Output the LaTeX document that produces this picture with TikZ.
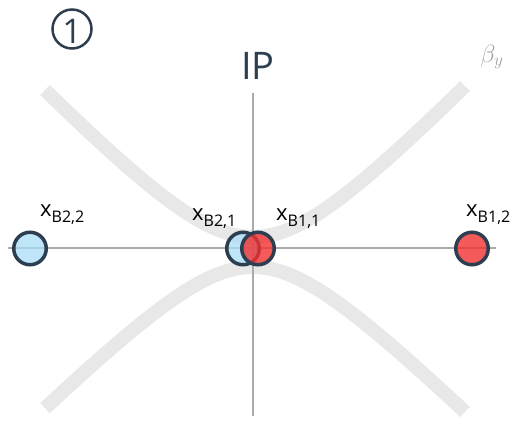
\documentclass[tikz,border=0pt]{standalone}
\usepackage{fontspec}
\setmainfont{Open Sans}
\definecolor{ink}{HTML}{2C3E50}
\definecolor{band}{HTML}{E8E8E8}
\definecolor{axisgray}{HTML}{AAAAAA}
\definecolor{bluefill}{HTML}{A8DDF5}
\definecolor{redfill}{HTML}{F23131}
\definecolor{betagray}{HTML}{A0A0A0}
\newcommand{\blab}[1]{{\fontsize{22}{22}\selectfont x}\raisebox{-6.5pt}{\fontsize{16}{16}\selectfont #1}}
\begin{document}
\begin{tikzpicture}[x=1pt,y=-1pt,
  curve/.style={draw=band,line width=14pt},
  axisline/.style={draw=axisgray,line width=2pt},
  dot/.style={circle,draw=ink,line width=3.5pt,minimum size=32.5pt,inner sep=0pt},
  bluedot/.style={dot,fill=bluefill,fill opacity=0.75},
  reddot/.style={dot,fill=redfill,fill opacity=0.8},
  lab/.style={anchor=base west,inner sep=0pt,text=black}]
\useasboundingbox (0,0) rectangle (513,423);
% hyperbolas
\draw[curve] plot[domain=-208:212,samples=120,variable=\t]
  ({253+\t},{237-(10*sqrt(8.87*8.87+(0.105*\t)*(0.105*\t))-88.7)});
\draw[curve] plot[domain=-208:212,samples=120,variable=\t]
  ({253+\t},{267+(10*sqrt(8.27*8.27+(0.1*\t)*(0.1*\t))-82.7)});
% axes
\coordinate (hl) at (8,248);
\coordinate (hr) at (496,248);
\coordinate (vt) at (253,93);
\coordinate (vb) at (253,416);
\draw[axisline] (hl) -- (hr);
\draw[axisline] (vt) -- (vb);
% dots
\node[bluedot] (b22) at (30,248.5) {};
\node[bluedot] (b21) at (243,248.5) {};
\node[reddot] (b11) at (258,248.5) {};
\node[reddot] (b12) at (472,248.5) {};
% labels
\node[lab] (l22) at (40,216) {\blab{B2,2}};
\node[lab] (l21) at (192,220) {\blab{B2,1}};
\node[lab] (l11) at (276,220) {\blab{B1,1}};
\node[lab] (l12) at (466,216) {\blab{B1,2}};
\node[anchor=base,inner sep=0pt,text=ink,font=\fontsize{38}{38}\selectfont] (ip) at (258,79) {IP};
\node[inner sep=0pt,text=betagray,font=\fontsize{27}{27}\selectfont] (beta) at (492,57) {$\beta_y$};
\node[circle,draw=ink,line width=2.5pt,minimum size=39pt,inner sep=0pt] (one) at (72,29) {};
\node[anchor=base,inner sep=0pt,text=ink,font=\fontsize{34}{34}\selectfont] (onetxt) at (72,43) {1};
\end{tikzpicture}
\end{document}
